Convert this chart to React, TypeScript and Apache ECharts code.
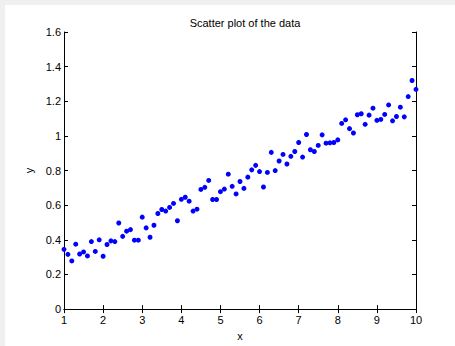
import React, { useEffect, useRef } from "react";
import * as echarts from "echarts";

const xStart = 1;
const xStep = 0.1;
const yValues: number[] = [
  0.345, 0.316, 0.278, 0.375, 0.318, 0.33, 0.307, 0.39, 0.333, 0.4,
  0.305, 0.373, 0.394, 0.39, 0.497, 0.42, 0.45, 0.459, 0.398, 0.398,
  0.531, 0.469, 0.415, 0.484, 0.552, 0.575, 0.566, 0.587, 0.61, 0.51,
  0.634, 0.646, 0.623, 0.566, 0.577, 0.691, 0.703, 0.743, 0.633, 0.633,
  0.678, 0.693, 0.779, 0.709, 0.665, 0.737, 0.697, 0.762, 0.804, 0.83,
  0.794, 0.705, 0.789, 0.905, 0.8, 0.855, 0.893, 0.838, 0.882, 0.91,
  0.962, 0.878, 1.008, 0.92, 0.91, 0.945, 1.006, 0.958, 0.96, 0.962,
  0.977, 1.072, 1.093, 1.042, 1.017, 1.122, 1.128, 1.067, 1.12, 1.16,
  1.09, 1.095, 1.124, 1.179, 1.087, 1.112, 1.166, 1.11, 1.227, 1.32,
  1.269,
];
const xTicks = [1, 2, 3, 4, 5, 6, 7, 8, 9, 10];
const yTicks = [0, 0.2, 0.4, 0.6, 0.8, 1, 1.2, 1.4, 1.6];

const FONT = "'Liberation Sans', Arial, Helvetica, sans-serif";

export default function App() {
  const ref = useRef<HTMLDivElement>(null);
  useEffect(() => {
    if (!ref.current) return;
    const chart = echarts.init(ref.current, null, { renderer: "svg" });
    const data = yValues.map((y, i) => [
      Math.round((xStart + i * xStep) * 10) / 10,
      y,
    ]);
    const common = {
      axisLine: { show: true, lineStyle: { color: "#000", width: 1 } },
      axisTick: { show: true, inside: true, length: 4, lineStyle: { color: "#000" } },
      splitLine: { show: false },
    };
    chart.setOption({
      animation: false,
      backgroundColor: "#f0f0f0",
      textStyle: { fontFamily: FONT },
      graphic: [
        {
          type: "rect",
          z: -10,
          silent: true,
          shape: { x: 5, y: 5, width: 450, height: 341 },
          style: { fill: "#ffffff" },
        },
      ],
      title: {
        text: "Scatter plot of the data",
        left: 240,
        top: 12,
        textAlign: "center",
        textStyle: { fontSize: 11, fontWeight: "normal", color: "#000", fontFamily: FONT },
      },
      grid: { left: 64, top: 32, right: 39, bottom: 34, containLabel: false },
      xAxis: [
        {
          type: "value",
          position: "bottom",
          min: xTicks[0],
          max: xTicks[xTicks.length - 1],
          interval: 1,
          name: "x",
          nameLocation: "middle",
          nameGap: 16,
          nameTextStyle: { fontSize: 11, color: "#000", fontFamily: FONT },
          axisLabel: { fontSize: 11, color: "#000", margin: 5, fontFamily: FONT },
          ...common,
        },
        {
          type: "value",
          position: "top",
          min: xTicks[0],
          max: xTicks[xTicks.length - 1],
          interval: 1,
          axisLabel: { show: false },
          ...common,
        },
      ],
      yAxis: [
        {
          type: "value",
          position: "left",
          min: yTicks[0],
          max: yTicks[yTicks.length - 1],
          interval: 0.2,
          name: "y",
          nameLocation: "middle",
          nameGap: 25,
          nameTextStyle: { fontSize: 11, color: "#000", fontFamily: FONT },
          axisLabel: {
            fontSize: 11,
            color: "#000",
            margin: 3,
            fontFamily: FONT,
            formatter: (v: number) => String(Math.round(v * 10) / 10),
          },
          ...common,
        },
        {
          type: "value",
          position: "right",
          min: yTicks[0],
          max: yTicks[yTicks.length - 1],
          interval: 0.2,
          axisLabel: { show: false },
          ...common,
        },
      ],
      series: [
        {
          type: "scatter",
          xAxisIndex: 0,
          yAxisIndex: 0,
          data,
          symbol: "circle",
          symbolSize: 5,
          itemStyle: { color: "#0000ff", opacity: 1 },
        },
      ],
    });
    return () => chart.dispose();
  }, []);
  return (
    <div
      ref={ref}
      style={{ position: "fixed", left: 0, top: 0, width: 455, height: 346 }}
    />
  );
}
